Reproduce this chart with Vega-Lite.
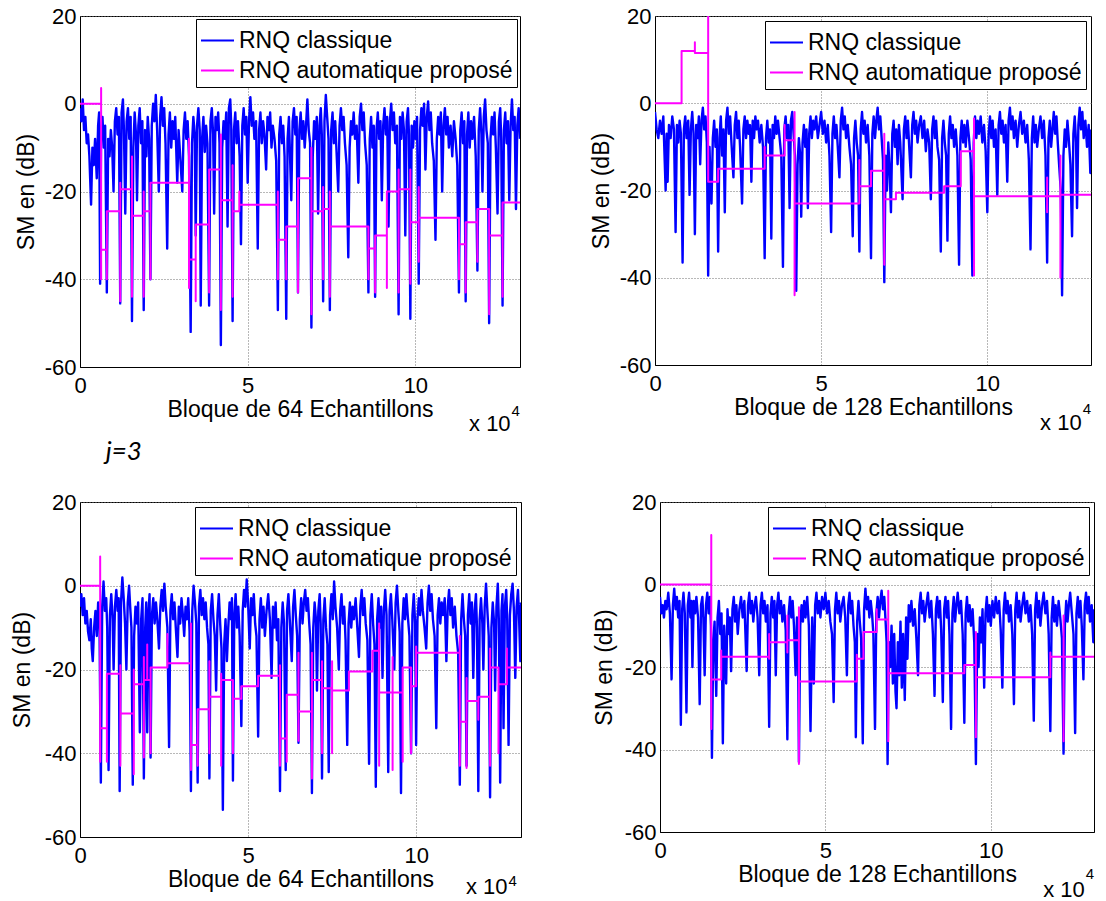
{
"$schema": "https://vega.github.io/schema/vega-lite/v6.json",
"background": "white",
"padding": {"left": 10, "top": 4, "right": 0, "bottom": 0},
"config": {
 "font": "Liberation Sans",
 "view": {"stroke": "black", "strokeWidth": 1},
 "axis": {"labelFont": "Liberation Sans", "labelFontSize": 22, "labelColor": "black", "titleFont": "Liberation Sans", "titleFontSize": 23, "titleFontWeight": "normal", "titleColor": "black", "domainColor": "black", "ticks": false, "grid": true, "gridColor": "#707070", "gridDash": [1, 2], "gridWidth": 1, "labelFlush": false, "labelOverlap": false},
 "legend": {"orient": "top-right", "offset": 4, "strokeColor": "black", "fillColor": "white", "padding": 4, "rowPadding": -2, "symbolType": "stroke", "symbolSize": 1089, "symbolStrokeWidth": 2, "labelFont": "Liberation Sans", "labelFontSize": 23, "labelColor": "black", "labelOffset": 4, "labelLimit": 500},
 "line": {"strokeWidth": 2, "strokeJoin": "round"},
 "text": {"font": "Liberation Sans", "color": "black"}
},
"datasets": {
"b1": [{"x":0,"y":-1},{"x":0.04,"y":-4},{"x":0.08,"y":1},{"x":0.12,"y":-6},{"x":0.16,"y":-3},{"x":0.2,"y":-9},{"x":0.24,"y":-7},{"x":0.28,"y":-12},{"x":0.33,"y":-23},{"x":0.37,"y":-10},{"x":0.41,"y":-14},{"x":0.45,"y":-8},{"x":0.5,"y":-17},{"x":0.54,"y":-5},{"x":0.57,"y":-2},{"x":0.6,"y":-41},{"x":0.63,"y":-6},{"x":0.67,"y":-3},{"x":0.71,"y":-10},{"x":0.75,"y":-5},{"x":0.8,"y":-43},{"x":0.84,"y":-8},{"x":0.88,"y":-12},{"x":0.92,"y":-6},{"x":0.96,"y":-10},{"x":1.0,"y":-20},{"x":1.04,"y":-4},{"x":1.08,"y":-1},{"x":1.12,"y":-7},{"x":1.16,"y":-3},{"x":1.2,"y":-45.5},{"x":1.24,"y":-2},{"x":1.28,"y":1},{"x":1.31,"y":-6},{"x":1.35,"y":-25},{"x":1.39,"y":-4},{"x":1.43,"y":-1},{"x":1.47,"y":-8},{"x":1.51,"y":-3},{"x":1.55,"y":-49.5},{"x":1.59,"y":-10},{"x":1.63,"y":-2},{"x":1.67,"y":-7},{"x":1.7,"y":-22},{"x":1.74,"y":-5},{"x":1.78,"y":-1},{"x":1.82,"y":-9},{"x":1.86,"y":-4},{"x":1.9,"y":-47},{"x":1.94,"y":-6},{"x":1.98,"y":-12},{"x":2.02,"y":-3},{"x":2.06,"y":-8},{"x":2.1,"y":-40},{"x":2.14,"y":-5},{"x":2.18,"y":0},{"x":2.22,"y":-4},{"x":2.26,"y":2},{"x":2.3,"y":-6},{"x":2.35,"y":-20},{"x":2.39,"y":-3},{"x":2.43,"y":1.5},{"x":2.47,"y":-5},{"x":2.51,"y":-1},{"x":2.55,"y":-9},{"x":2.6,"y":-33},{"x":2.64,"y":-7},{"x":2.68,"y":-2},{"x":2.72,"y":-10},{"x":2.76,"y":-4},{"x":2.8,"y":-8},{"x":2.84,"y":-3},{"x":2.9,"y":-18},{"x":2.94,"y":-6},{"x":2.98,"y":-11},{"x":3.05,"y":-20},{"x":3.09,"y":-6},{"x":3.13,"y":-2},{"x":3.17,"y":-8},{"x":3.21,"y":-4},{"x":3.25,"y":-12},{"x":3.3,"y":-52},{"x":3.34,"y":-9},{"x":3.38,"y":-3},{"x":3.42,"y":-7},{"x":3.45,"y":-30},{"x":3.49,"y":-5},{"x":3.53,"y":-1},{"x":3.57,"y":-6},{"x":3.6,"y":-46},{"x":3.64,"y":-8},{"x":3.68,"y":-3},{"x":3.72,"y":-11},{"x":3.76,"y":-5},{"x":3.8,"y":-9},{"x":3.85,"y":-46},{"x":3.89,"y":-4},{"x":3.93,"y":-1},{"x":3.97,"y":-7},{"x":4.0,"y":-25},{"x":4.04,"y":-3},{"x":4.08,"y":-6},{"x":4.12,"y":-2},{"x":4.16,"y":-9},{"x":4.2,"y":-55},{"x":4.24,"y":-10},{"x":4.28,"y":-4},{"x":4.32,"y":-8},{"x":4.36,"y":-2},{"x":4.4,"y":-28},{"x":4.44,"y":-1},{"x":4.48,"y":1},{"x":4.51,"y":-5},{"x":4.55,"y":-49.5},{"x":4.59,"y":-6},{"x":4.63,"y":-2},{"x":4.67,"y":-9},{"x":4.71,"y":-4},{"x":4.76,"y":-12},{"x":4.8,"y":-32},{"x":4.84,"y":-5},{"x":4.88,"y":-1},{"x":4.92,"y":-7},{"x":4.96,"y":-3},{"x":5.0,"y":-18},{"x":5.04,"y":-4},{"x":5.08,"y":1.5},{"x":5.12,"y":-5},{"x":5.16,"y":-2},{"x":5.2,"y":-8},{"x":5.25,"y":-4},{"x":5.3,"y":-33},{"x":5.34,"y":-6},{"x":5.38,"y":-2},{"x":5.42,"y":-9},{"x":5.46,"y":-4},{"x":5.5,"y":-7},{"x":5.55,"y":-15},{"x":5.59,"y":-3},{"x":5.63,"y":-6},{"x":5.67,"y":-2},{"x":5.71,"y":-10},{"x":5.75,"y":-5},{"x":5.8,"y":-8},{"x":5.85,"y":-13},{"x":5.9,"y":-47},{"x":5.94,"y":-7},{"x":5.98,"y":-3},{"x":6.02,"y":-9},{"x":6.06,"y":-5},{"x":6.1,"y":-12},{"x":6.15,"y":-49},{"x":6.19,"y":-8},{"x":6.23,"y":-3},{"x":6.3,"y":-22},{"x":6.34,"y":-4},{"x":6.38,"y":-1},{"x":6.42,"y":-7},{"x":6.46,"y":-3},{"x":6.5,"y":-43},{"x":6.54,"y":-6},{"x":6.58,"y":-2},{"x":6.62,"y":-8},{"x":6.66,"y":-4},{"x":6.7,"y":-10},{"x":6.74,"y":-5},{"x":6.78,"y":1},{"x":6.82,"y":-6},{"x":6.86,"y":-9},{"x":6.9,"y":-51},{"x":6.94,"y":-12},{"x":6.98,"y":-4},{"x":7.02,"y":-8},{"x":7.06,"y":-3},{"x":7.1,"y":-25},{"x":7.14,"y":-5},{"x":7.18,"y":-1},{"x":7.21,"y":-7},{"x":7.25,"y":-45},{"x":7.29,"y":-4},{"x":7.33,"y":2},{"x":7.37,"y":-3},{"x":7.41,"y":-8},{"x":7.45,"y":-47},{"x":7.49,"y":-6},{"x":7.53,"y":-2},{"x":7.57,"y":-9},{"x":7.61,"y":-4},{"x":7.65,"y":-11},{"x":7.7,"y":-20},{"x":7.74,"y":-5},{"x":7.78,"y":-1},{"x":7.82,"y":-6},{"x":7.86,"y":-3},{"x":7.9,"y":-9},{"x":7.95,"y":-14},{"x":8.0,"y":-35},{"x":8.04,"y":-10},{"x":8.08,"y":-4},{"x":8.12,"y":-7},{"x":8.16,"y":-2},{"x":8.2,"y":-8},{"x":8.25,"y":-5},{"x":8.3,"y":-18},{"x":8.34,"y":-3},{"x":8.38,"y":0},{"x":8.42,"y":-6},{"x":8.46,"y":-2},{"x":8.5,"y":-9},{"x":8.55,"y":-14},{"x":8.6,"y":-43},{"x":8.64,"y":-8},{"x":8.68,"y":-3},{"x":8.72,"y":-10},{"x":8.76,"y":-5},{"x":8.8,"y":-44},{"x":8.84,"y":-6},{"x":8.88,"y":-2},{"x":8.92,"y":-8},{"x":8.96,"y":-4},{"x":9.0,"y":-22},{"x":9.04,"y":-5},{"x":9.08,"y":-1},{"x":9.12,"y":-7},{"x":9.16,"y":-3},{"x":9.2,"y":-28},{"x":9.24,"y":-4},{"x":9.28,"y":0},{"x":9.32,"y":-6},{"x":9.36,"y":-2},{"x":9.4,"y":-9},{"x":9.45,"y":-5},{"x":9.5,"y":-48},{"x":9.54,"y":-3},{"x":9.58,"y":-8},{"x":9.62,"y":-2},{"x":9.66,"y":-6},{"x":9.7,"y":-30},{"x":9.74,"y":-4},{"x":9.78,"y":-1},{"x":9.81,"y":-7},{"x":9.85,"y":-49},{"x":9.89,"y":-5},{"x":9.93,"y":-10},{"x":9.97,"y":-4},{"x":10.01,"y":-8},{"x":10.05,"y":-3},{"x":10.1,"y":-41},{"x":10.14,"y":-6},{"x":10.18,"y":-1},{"x":10.22,"y":-5},{"x":10.26,"y":0},{"x":10.3,"y":-15},{"x":10.34,"y":-3},{"x":10.38,"y":0.5},{"x":10.42,"y":-6},{"x":10.46,"y":-2},{"x":10.5,"y":-9},{"x":10.55,"y":-13},{"x":10.6,"y":-31},{"x":10.64,"y":-8},{"x":10.68,"y":-3},{"x":10.72,"y":-7},{"x":10.76,"y":-2},{"x":10.8,"y":-20},{"x":10.84,"y":-5},{"x":10.88,"y":-1},{"x":10.92,"y":-7},{"x":10.96,"y":-3},{"x":11.0,"y":-10},{"x":11.05,"y":-5},{"x":11.1,"y":-12},{"x":11.15,"y":-4},{"x":11.2,"y":-8},{"x":11.25,"y":-14},{"x":11.3,"y":-43},{"x":11.34,"y":-6},{"x":11.38,"y":-2},{"x":11.42,"y":-9},{"x":11.46,"y":-4},{"x":11.5,"y":-45},{"x":11.54,"y":-7},{"x":11.58,"y":-2},{"x":11.62,"y":-10},{"x":11.66,"y":-4},{"x":11.7,"y":-8},{"x":11.75,"y":-3},{"x":11.8,"y":-12},{"x":11.85,"y":-38},{"x":11.89,"y":-6},{"x":11.93,"y":-1},{"x":11.97,"y":-7},{"x":12.0,"y":-20},{"x":12.04,"y":-3},{"x":12.08,"y":1},{"x":12.12,"y":-6},{"x":12.16,"y":-9},{"x":12.2,"y":-50},{"x":12.24,"y":-8},{"x":12.28,"y":-3},{"x":12.32,"y":-7},{"x":12.36,"y":-2},{"x":12.4,"y":-10},{"x":12.45,"y":-25},{"x":12.49,"y":-4},{"x":12.53,"y":-1},{"x":12.56,"y":-8},{"x":12.6,"y":-46},{"x":12.64,"y":-6},{"x":12.68,"y":-2},{"x":12.72,"y":-9},{"x":12.76,"y":-4},{"x":12.8,"y":-22},{"x":12.84,"y":-5},{"x":12.88,"y":1},{"x":12.92,"y":-6},{"x":12.96,"y":-3},{"x":13.0,"y":-24},{"x":13.04,"y":-5},{"x":13.08,"y":-1},{"x":13.12,"y":-8}],
"m1": [{"x":0,"y":0},{"x":0.63,"y":0},{"x":0.63,"y":3.6},{"x":0.63,"y":-40},{"x":0.63,"y":-33.3},{"x":0.8,"y":-33.3},{"x":0.8,"y":-40},{"x":0.8,"y":-24.5},{"x":1.2,"y":-24.5},{"x":1.2,"y":-45},{"x":1.2,"y":-18},{"x":1.2,"y":-19.5},{"x":1.55,"y":-19.5},{"x":1.55,"y":-44},{"x":1.55,"y":-12},{"x":1.55,"y":-25.5},{"x":1.9,"y":-25.5},{"x":1.9,"y":-44},{"x":1.9,"y":-20},{"x":1.9,"y":-24.5},{"x":2.1,"y":-24.5},{"x":2.1,"y":-40},{"x":2.1,"y":-18},{"x":3.25,"y":-18},{"x":3.25,"y":-8},{"x":3.25,"y":-42},{"x":3.25,"y":-35.5},{"x":3.45,"y":-35.5},{"x":3.45,"y":-45},{"x":3.45,"y":-27.5},{"x":3.85,"y":-27.5},{"x":3.85,"y":-43},{"x":3.85,"y":-15},{"x":4.2,"y":-15},{"x":4.2,"y":-7},{"x":4.2,"y":-47},{"x":4.2,"y":-22},{"x":4.55,"y":-22},{"x":4.55,"y":-44},{"x":4.55,"y":-14},{"x":4.55,"y":-24.5},{"x":4.75,"y":-24.5},{"x":4.75,"y":-20},{"x":4.75,"y":-23},{"x":5.9,"y":-23},{"x":5.9,"y":-20},{"x":5.9,"y":-40},{"x":5.9,"y":-31},{"x":6.15,"y":-31},{"x":6.15,"y":-40},{"x":6.15,"y":-28},{"x":6.5,"y":-28},{"x":6.5,"y":-43},{"x":6.5,"y":-17},{"x":6.9,"y":-17},{"x":6.9,"y":-48},{"x":6.9,"y":-10},{"x":6.9,"y":-24.5},{"x":7.25,"y":-24.5},{"x":7.25,"y":-40},{"x":7.25,"y":-19},{"x":7.25,"y":-24},{"x":7.45,"y":-24},{"x":7.45,"y":-44},{"x":7.45,"y":-20},{"x":7.45,"y":-28},{"x":8.6,"y":-28},{"x":8.6,"y":-40},{"x":8.6,"y":-33},{"x":8.8,"y":-33},{"x":8.8,"y":-43},{"x":8.8,"y":-30},{"x":9.15,"y":-30},{"x":9.15,"y":-42},{"x":9.15,"y":-20},{"x":9.5,"y":-20},{"x":9.5,"y":-43},{"x":9.5,"y":-15},{"x":9.5,"y":-19.5},{"x":9.85,"y":-19.5},{"x":9.85,"y":-15},{"x":9.85,"y":-41},{"x":9.85,"y":-27},{"x":10.1,"y":-27},{"x":10.1,"y":-19},{"x":10.1,"y":-36},{"x":10.1,"y":-26},{"x":11.3,"y":-26},{"x":11.3,"y":-40},{"x":11.3,"y":-32},{"x":11.5,"y":-32},{"x":11.5,"y":-43},{"x":11.5,"y":-27},{"x":11.85,"y":-27},{"x":11.85,"y":-36},{"x":11.85,"y":-24},{"x":12.2,"y":-24},{"x":12.2,"y":-48},{"x":12.2,"y":-30},{"x":12.6,"y":-30},{"x":12.6,"y":-44},{"x":12.6,"y":-22.5},{"x":13.12,"y":-22.5}],
"b2": [{"x":0,"y":-2},{"x":0.05,"y":-6},{"x":0.1,"y":-8},{"x":0.15,"y":-4},{"x":0.2,"y":-7},{"x":0.25,"y":-3},{"x":0.32,"y":-20},{"x":0.35,"y":-7},{"x":0.38,"y":-18},{"x":0.42,"y":-5},{"x":0.47,"y":-8},{"x":0.52,"y":-3},{"x":0.57,"y":-6},{"x":0.62,"y":-29.5},{"x":0.66,"y":-5},{"x":0.7,"y":-9},{"x":0.74,"y":-4},{"x":0.78,"y":-7},{"x":0.83,"y":-36.5},{"x":0.87,"y":-6},{"x":0.91,"y":-3},{"x":0.95,"y":-8},{"x":1.0,"y":-4},{"x":1.04,"y":-21},{"x":1.08,"y":-6},{"x":1.12,"y":-2},{"x":1.16,"y":-7},{"x":1.2,"y":-30},{"x":1.24,"y":-5},{"x":1.28,"y":-8},{"x":1.32,"y":-3},{"x":1.36,"y":-14},{"x":1.4,"y":-4},{"x":1.44,"y":-1},{"x":1.48,"y":-6},{"x":1.52,"y":-3},{"x":1.56,"y":-9},{"x":1.6,"y":-39.5},{"x":1.64,"y":-10},{"x":1.67,"y":-18},{"x":1.7,"y":-23},{"x":1.74,"y":-8},{"x":1.78,"y":-4},{"x":1.82,"y":-10},{"x":1.86,"y":-6},{"x":1.9,"y":-34},{"x":1.94,"y":-8},{"x":1.98,"y":-3},{"x":2.02,"y":-12},{"x":2.06,"y":-6},{"x":2.1,"y":-25},{"x":2.14,"y":-4},{"x":2.18,"y":-1},{"x":2.22,"y":-7},{"x":2.26,"y":-3},{"x":2.3,"y":-9},{"x":2.36,"y":-17},{"x":2.4,"y":-5},{"x":2.44,"y":-2},{"x":2.48,"y":-8},{"x":2.52,"y":-4},{"x":2.56,"y":-10},{"x":2.62,"y":-23},{"x":2.66,"y":-6},{"x":2.7,"y":-3},{"x":2.74,"y":-8},{"x":2.78,"y":-4},{"x":2.82,"y":-7},{"x":2.86,"y":-5},{"x":2.9,"y":-18},{"x":2.94,"y":-4},{"x":2.98,"y":-8},{"x":3.02,"y":-3},{"x":3.06,"y":-6},{"x":3.1,"y":-4},{"x":3.15,"y":-9},{"x":3.2,"y":-5},{"x":3.25,"y":-10},{"x":3.3,"y":-35.5},{"x":3.34,"y":-8},{"x":3.38,"y":-4},{"x":3.42,"y":-9},{"x":3.46,"y":-6},{"x":3.5,"y":-31},{"x":3.54,"y":-5},{"x":3.58,"y":-8},{"x":3.62,"y":-3},{"x":3.66,"y":-7},{"x":3.7,"y":-4},{"x":3.75,"y":-8},{"x":3.8,"y":-12},{"x":3.85,"y":-37.5},{"x":3.89,"y":-6},{"x":3.93,"y":-3},{"x":3.97,"y":-8},{"x":4.01,"y":-5},{"x":4.05,"y":-24},{"x":4.09,"y":-4},{"x":4.13,"y":-2},{"x":4.17,"y":-7},{"x":4.21,"y":-12},{"x":4.25,"y":-43},{"x":4.29,"y":-14},{"x":4.33,"y":-8},{"x":4.37,"y":-12},{"x":4.4,"y":-26},{"x":4.44,"y":-9},{"x":4.48,"y":-5},{"x":4.52,"y":-10},{"x":4.56,"y":-6},{"x":4.6,"y":-24},{"x":4.64,"y":-7},{"x":4.68,"y":-3},{"x":4.72,"y":-8},{"x":4.76,"y":-4},{"x":4.8,"y":-6},{"x":4.85,"y":-3},{"x":4.9,"y":-8},{"x":4.95,"y":-5},{"x":5.0,"y":-2},{"x":5.05,"y":-7},{"x":5.1,"y":-4},{"x":5.15,"y":-9},{"x":5.2,"y":-5},{"x":5.25,"y":-12},{"x":5.3,"y":-29.5},{"x":5.34,"y":-7},{"x":5.38,"y":-3},{"x":5.42,"y":-8},{"x":5.46,"y":-5},{"x":5.5,"y":-10},{"x":5.55,"y":-17},{"x":5.59,"y":-4},{"x":5.63,"y":-1},{"x":5.67,"y":-6},{"x":5.71,"y":-3},{"x":5.75,"y":-8},{"x":5.8,"y":-5},{"x":5.85,"y":-10},{"x":5.9,"y":-14},{"x":5.95,"y":-30.5},{"x":5.99,"y":-8},{"x":6.03,"y":-4},{"x":6.07,"y":-9},{"x":6.11,"y":-12},{"x":6.15,"y":-34},{"x":6.19,"y":-6},{"x":6.23,"y":-2},{"x":6.27,"y":-7},{"x":6.31,"y":-4},{"x":6.35,"y":-9},{"x":6.4,"y":-5},{"x":6.45,"y":-12},{"x":6.5,"y":-35.5},{"x":6.54,"y":-7},{"x":6.58,"y":-3},{"x":6.62,"y":-8},{"x":6.66,"y":-4},{"x":6.7,"y":-1},{"x":6.74,"y":-6},{"x":6.78,"y":-3},{"x":6.82,"y":-8},{"x":6.86,"y":-13},{"x":6.9,"y":-41},{"x":6.94,"y":-12},{"x":6.98,"y":-20},{"x":7.02,"y":-9},{"x":7.06,"y":-15},{"x":7.1,"y":-25},{"x":7.14,"y":-7},{"x":7.18,"y":-4},{"x":7.22,"y":-10},{"x":7.26,"y":-6},{"x":7.3,"y":-14},{"x":7.34,"y":-5},{"x":7.38,"y":-9},{"x":7.45,"y":-22},{"x":7.49,"y":-6},{"x":7.53,"y":-3},{"x":7.57,"y":-8},{"x":7.61,"y":-4},{"x":7.65,"y":-10},{"x":7.7,"y":-17},{"x":7.74,"y":-5},{"x":7.78,"y":-2},{"x":7.82,"y":-7},{"x":7.86,"y":-4},{"x":7.9,"y":-9},{"x":7.95,"y":-5},{"x":8.0,"y":-3},{"x":8.05,"y":-8},{"x":8.1,"y":-4},{"x":8.15,"y":-11},{"x":8.2,"y":-6},{"x":8.25,"y":-9},{"x":8.3,"y":-22},{"x":8.34,"y":-6},{"x":8.38,"y":-3},{"x":8.42,"y":-8},{"x":8.46,"y":-4},{"x":8.5,"y":-10},{"x":8.55,"y":-13},{"x":8.6,"y":-34},{"x":8.64,"y":-8},{"x":8.68,"y":-4},{"x":8.72,"y":-9},{"x":8.76,"y":-12},{"x":8.8,"y":-31.5},{"x":8.84,"y":-7},{"x":8.88,"y":-3},{"x":8.92,"y":-8},{"x":8.96,"y":-5},{"x":9.0,"y":-10},{"x":9.05,"y":-6},{"x":9.1,"y":-12},{"x":9.15,"y":-37},{"x":9.19,"y":-8},{"x":9.23,"y":-4},{"x":9.27,"y":-9},{"x":9.31,"y":-5},{"x":9.35,"y":-10},{"x":9.4,"y":-4},{"x":9.45,"y":-8},{"x":9.5,"y":-13},{"x":9.55,"y":-39.5},{"x":9.59,"y":-9},{"x":9.63,"y":-3},{"x":9.67,"y":-8},{"x":9.71,"y":-4},{"x":9.75,"y":-7},{"x":9.8,"y":-3},{"x":9.85,"y":-9},{"x":9.9,"y":-5},{"x":9.95,"y":-11},{"x":10.0,"y":-25},{"x":10.04,"y":-7},{"x":10.08,"y":-3},{"x":10.12,"y":-8},{"x":10.16,"y":-4},{"x":10.2,"y":-10},{"x":10.25,"y":-6},{"x":10.3,"y":-21},{"x":10.34,"y":-5},{"x":10.38,"y":-2},{"x":10.42,"y":-7},{"x":10.46,"y":-4},{"x":10.5,"y":-9},{"x":10.55,"y":-5},{"x":10.6,"y":-18},{"x":10.64,"y":-4},{"x":10.68,"y":-1},{"x":10.72,"y":-6},{"x":10.76,"y":-3},{"x":10.8,"y":-8},{"x":10.85,"y":-4},{"x":10.9,"y":-10},{"x":10.95,"y":-5},{"x":11.0,"y":-2},{"x":11.05,"y":-7},{"x":11.1,"y":-4},{"x":11.15,"y":-9},{"x":11.2,"y":-5},{"x":11.25,"y":-13},{"x":11.3,"y":-33.5},{"x":11.34,"y":-8},{"x":11.38,"y":-3},{"x":11.42,"y":-9},{"x":11.46,"y":-5},{"x":11.5,"y":-10},{"x":11.55,"y":-6},{"x":11.6,"y":-3},{"x":11.65,"y":-8},{"x":11.7,"y":-4},{"x":11.75,"y":-12},{"x":11.8,"y":-36.5},{"x":11.84,"y":-8},{"x":11.88,"y":-4},{"x":11.92,"y":-10},{"x":11.96,"y":-6},{"x":12.0,"y":-2},{"x":12.04,"y":-7},{"x":12.08,"y":-3},{"x":12.12,"y":-9},{"x":12.16,"y":-14},{"x":12.21,"y":-20},{"x":12.25,"y":-44},{"x":12.29,"y":-12},{"x":12.33,"y":-6},{"x":12.37,"y":-10},{"x":12.41,"y":-4},{"x":12.45,"y":-8},{"x":12.5,"y":-14},{"x":12.55,"y":-30.5},{"x":12.59,"y":-7},{"x":12.63,"y":-3},{"x":12.67,"y":-9},{"x":12.7,"y":-24},{"x":12.74,"y":-5},{"x":12.78,"y":-1},{"x":12.82,"y":-6},{"x":12.86,"y":-2},{"x":12.9,"y":-8},{"x":12.95,"y":-4},{"x":13.0,"y":-10},{"x":13.05,"y":-5},{"x":13.1,"y":-16},{"x":13.12,"y":-6}],
"m2": [{"x":0,"y":0},{"x":0.8,"y":0},{"x":0.8,"y":12},{"x":1.2,"y":12},{"x":1.2,"y":14},{"x":1.2,"y":11.5},{"x":1.6,"y":11.5},{"x":1.6,"y":20},{"x":1.6,"y":-18},{"x":1.9,"y":-18},{"x":1.9,"y":-15},{"x":3.3,"y":-15},{"x":3.3,"y":-10},{"x":3.3,"y":-12},{"x":3.9,"y":-12},{"x":3.9,"y":-5},{"x":3.9,"y":-8.5},{"x":4.2,"y":-8.5},{"x":4.2,"y":-2},{"x":4.2,"y":-44},{"x":4.2,"y":-23},{"x":6.15,"y":-23},{"x":6.15,"y":-13},{"x":6.15,"y":-19},{"x":6.5,"y":-19},{"x":6.5,"y":-15.5},{"x":6.9,"y":-15.5},{"x":6.9,"y":-7},{"x":6.9,"y":-37},{"x":6.9,"y":-22},{"x":7.25,"y":-22},{"x":7.25,"y":-20.5},{"x":8.7,"y":-20.5},{"x":8.7,"y":-19},{"x":9.2,"y":-19},{"x":9.2,"y":-11},{"x":9.6,"y":-11},{"x":9.6,"y":-3.5},{"x":9.6,"y":-39.5},{"x":9.6,"y":-21.3},{"x":11.8,"y":-21.3},{"x":11.8,"y":-17},{"x":11.8,"y":-25},{"x":11.8,"y":-21.3},{"x":12.2,"y":-21.3},{"x":12.2,"y":-12},{"x":12.2,"y":-40},{"x":12.2,"y":-21},{"x":13.12,"y":-21}],
"b3": [{"x":0,"y":-5},{"x":0.04,"y":-2},{"x":0.08,"y":-7},{"x":0.12,"y":-3},{"x":0.16,"y":-9},{"x":0.2,"y":-6},{"x":0.24,"y":-11},{"x":0.28,"y":-13},{"x":0.32,"y":-8},{"x":0.35,"y":-15},{"x":0.38,"y":-18},{"x":0.42,"y":-10},{"x":0.46,"y":-6},{"x":0.5,"y":-12},{"x":0.54,"y":-4},{"x":0.58,"y":-9},{"x":0.62,"y":-47},{"x":0.66,"y":-5},{"x":0.7,"y":1},{"x":0.74,"y":-6},{"x":0.78,"y":-3},{"x":0.81,"y":-10},{"x":0.85,"y":-44},{"x":0.89,"y":-7},{"x":0.93,"y":-2},{"x":0.97,"y":-8},{"x":1.0,"y":-20},{"x":1.04,"y":-5},{"x":1.08,"y":-1},{"x":1.12,"y":-6},{"x":1.15,"y":-3},{"x":1.18,"y":-49},{"x":1.22,"y":-4},{"x":1.26,"y":2},{"x":1.3,"y":-3},{"x":1.34,"y":-9},{"x":1.38,"y":-20},{"x":1.42,"y":-4},{"x":1.46,"y":0},{"x":1.5,"y":-6},{"x":1.53,"y":-10},{"x":1.57,"y":-47.5},{"x":1.61,"y":-12},{"x":1.65,"y":-5},{"x":1.69,"y":-9},{"x":1.73,"y":-4},{"x":1.78,"y":-35},{"x":1.82,"y":-8},{"x":1.86,"y":-3},{"x":1.9,"y":-46},{"x":1.94,"y":-10},{"x":1.97,"y":-4},{"x":2.0,"y":-35},{"x":2.04,"y":-6},{"x":2.07,"y":-2},{"x":2.1,"y":-41},{"x":2.14,"y":-7},{"x":2.18,"y":-3},{"x":2.22,"y":-9},{"x":2.26,"y":-4},{"x":2.3,"y":-8},{"x":2.35,"y":-15},{"x":2.39,"y":-5},{"x":2.43,"y":-1},{"x":2.47,"y":-6},{"x":2.51,"y":0.5},{"x":2.55,"y":-5},{"x":2.6,"y":-10},{"x":2.65,"y":-38.5},{"x":2.69,"y":-6},{"x":2.73,"y":-2},{"x":2.77,"y":-8},{"x":2.81,"y":-4},{"x":2.85,"y":-10},{"x":2.9,"y":-17},{"x":2.94,"y":-5},{"x":2.98,"y":-9},{"x":3.02,"y":-3},{"x":3.06,"y":-7},{"x":3.1,"y":-12},{"x":3.14,"y":-5},{"x":3.18,"y":-8},{"x":3.22,"y":-3},{"x":3.26,"y":-11},{"x":3.3,"y":-49},{"x":3.34,"y":-6},{"x":3.38,"y":0},{"x":3.42,"y":-4},{"x":3.46,"y":-9},{"x":3.5,"y":-47},{"x":3.54,"y":-5},{"x":3.58,"y":-1},{"x":3.62,"y":-7},{"x":3.66,"y":-3},{"x":3.7,"y":-8},{"x":3.74,"y":-4},{"x":3.78,"y":-10},{"x":3.82,"y":-14},{"x":3.85,"y":-46},{"x":3.89,"y":-6},{"x":3.93,"y":-2},{"x":3.97,"y":-8},{"x":4.01,"y":-12},{"x":4.05,"y":-25},{"x":4.09,"y":-7},{"x":4.13,"y":-2},{"x":4.17,"y":-9},{"x":4.21,"y":-15},{"x":4.25,"y":-53.5},{"x":4.29,"y":-14},{"x":4.33,"y":-8},{"x":4.37,"y":-18},{"x":4.41,"y":-10},{"x":4.45,"y":-4},{"x":4.49,"y":-8},{"x":4.52,"y":-3},{"x":4.55,"y":-46.5},{"x":4.59,"y":-7},{"x":4.63,"y":-2},{"x":4.67,"y":-10},{"x":4.71,"y":-5},{"x":4.75,"y":-12},{"x":4.8,"y":-33.5},{"x":4.84,"y":-6},{"x":4.88,"y":-1},{"x":4.92,"y":-5},{"x":4.96,"y":1.5},{"x":5.0,"y":-4},{"x":5.05,"y":-15},{"x":5.09,"y":-3},{"x":5.13,"y":-7},{"x":5.17,"y":-2},{"x":5.21,"y":-9},{"x":5.25,"y":-12},{"x":5.3,"y":-36},{"x":5.34,"y":-8},{"x":5.38,"y":-3},{"x":5.42,"y":-10},{"x":5.46,"y":-5},{"x":5.5,"y":-12},{"x":5.55,"y":-6},{"x":5.6,"y":-2},{"x":5.65,"y":-8},{"x":5.7,"y":-22},{"x":5.74,"y":-5},{"x":5.78,"y":-10},{"x":5.82,"y":-4},{"x":5.86,"y":-13},{"x":5.9,"y":-8},{"x":5.95,"y":-49},{"x":5.99,"y":-10},{"x":6.03,"y":-4},{"x":6.07,"y":-9},{"x":6.12,"y":-44},{"x":6.16,"y":-6},{"x":6.2,"y":-2},{"x":6.24,"y":-8},{"x":6.3,"y":-18},{"x":6.34,"y":-5},{"x":6.38,"y":-1},{"x":6.42,"y":-7},{"x":6.46,"y":-12},{"x":6.5,"y":-37.5},{"x":6.54,"y":-8},{"x":6.58,"y":-3},{"x":6.62,"y":-9},{"x":6.66,"y":-4},{"x":6.7,"y":-1},{"x":6.74,"y":-6},{"x":6.78,"y":-3},{"x":6.82,"y":-9},{"x":6.86,"y":-14},{"x":6.9,"y":-49.5},{"x":6.94,"y":-10},{"x":6.98,"y":-4},{"x":7.02,"y":-8},{"x":7.05,"y":-25},{"x":7.09,"y":-6},{"x":7.13,"y":-2},{"x":7.16,"y":-9},{"x":7.2,"y":-46},{"x":7.24,"y":-8},{"x":7.28,"y":-3},{"x":7.32,"y":-10},{"x":7.36,"y":-14},{"x":7.4,"y":-44.5},{"x":7.44,"y":-7},{"x":7.48,"y":-2},{"x":7.52,"y":-8},{"x":7.56,"y":1},{"x":7.6,"y":-5},{"x":7.65,"y":-10},{"x":7.7,"y":-20},{"x":7.74,"y":-6},{"x":7.78,"y":-2},{"x":7.82,"y":-9},{"x":7.86,"y":-5},{"x":7.9,"y":-13},{"x":7.95,"y":-38},{"x":7.99,"y":-9},{"x":8.03,"y":-4},{"x":8.07,"y":-10},{"x":8.11,"y":-5},{"x":8.15,"y":-8},{"x":8.2,"y":-3},{"x":8.25,"y":-10},{"x":8.3,"y":-17},{"x":8.34,"y":-5},{"x":8.38,"y":-1},{"x":8.42,"y":-7},{"x":8.46,"y":-3},{"x":8.5,"y":-9},{"x":8.55,"y":-13},{"x":8.6,"y":-42.5},{"x":8.64,"y":-7},{"x":8.68,"y":-2},{"x":8.72,"y":-9},{"x":8.76,"y":-14},{"x":8.8,"y":-48},{"x":8.84,"y":-8},{"x":8.88,"y":-3},{"x":8.92,"y":-10},{"x":8.96,"y":-5},{"x":9.0,"y":-22},{"x":9.04,"y":-6},{"x":9.08,"y":-1},{"x":9.12,"y":-7},{"x":9.17,"y":-44.5},{"x":9.21,"y":-6},{"x":9.25,"y":-2},{"x":9.29,"y":-8},{"x":9.35,"y":-20},{"x":9.39,"y":-4},{"x":9.43,"y":0},{"x":9.47,"y":-6},{"x":9.51,"y":-11},{"x":9.55,"y":-49.5},{"x":9.59,"y":-9},{"x":9.63,"y":-3},{"x":9.67,"y":-8},{"x":9.71,"y":-2},{"x":9.75,"y":-7},{"x":9.8,"y":-12},{"x":9.85,"y":-40},{"x":9.89,"y":-7},{"x":9.93,"y":-2},{"x":9.97,"y":-9},{"x":10.0,"y":-38},{"x":10.04,"y":-8},{"x":10.08,"y":-3},{"x":10.12,"y":-7},{"x":10.16,"y":-1},{"x":10.2,"y":-6},{"x":10.25,"y":-10},{"x":10.3,"y":-15},{"x":10.34,"y":-4},{"x":10.38,"y":0},{"x":10.42,"y":-6},{"x":10.46,"y":-2},{"x":10.5,"y":-8},{"x":10.55,"y":-12},{"x":10.6,"y":-34},{"x":10.64,"y":-7},{"x":10.68,"y":-3},{"x":10.72,"y":-9},{"x":10.76,"y":-4},{"x":10.8,"y":-7},{"x":10.85,"y":-3},{"x":10.9,"y":-18},{"x":10.94,"y":-5},{"x":10.98,"y":-1},{"x":11.02,"y":-7},{"x":11.06,"y":-3},{"x":11.1,"y":-10},{"x":11.15,"y":-5},{"x":11.2,"y":-12},{"x":11.25,"y":-16},{"x":11.3,"y":-47.5},{"x":11.34,"y":-8},{"x":11.38,"y":-2},{"x":11.42,"y":-8},{"x":11.46,"y":-12},{"x":11.5,"y":-43},{"x":11.54,"y":-7},{"x":11.58,"y":-2},{"x":11.62,"y":-9},{"x":11.66,"y":-4},{"x":11.7,"y":-22},{"x":11.74,"y":-6},{"x":11.78,"y":-2},{"x":11.81,"y":-10},{"x":11.85,"y":-49},{"x":11.89,"y":-8},{"x":11.93,"y":-3},{"x":11.97,"y":-9},{"x":12.0,"y":-20},{"x":12.04,"y":-5},{"x":12.08,"y":0.5},{"x":12.12,"y":-6},{"x":12.16,"y":-12},{"x":12.2,"y":-50.5},{"x":12.24,"y":-10},{"x":12.28,"y":-4},{"x":12.32,"y":-9},{"x":12.35,"y":-25},{"x":12.39,"y":-5},{"x":12.43,"y":0.5},{"x":12.46,"y":-8},{"x":12.5,"y":-47},{"x":12.54,"y":-6},{"x":12.57,"y":-2},{"x":12.6,"y":-34},{"x":12.64,"y":-5},{"x":12.68,"y":-1},{"x":12.71,"y":-8},{"x":12.75,"y":-38},{"x":12.79,"y":-7},{"x":12.83,"y":-2},{"x":12.87,"y":0.5},{"x":12.91,"y":-6},{"x":12.95,"y":-22},{"x":12.99,"y":-5},{"x":13.03,"y":-1},{"x":13.06,"y":-7},{"x":13.1,"y":-18},{"x":13.12,"y":-4}],
"m3": [{"x":0,"y":0},{"x":0.6,"y":0},{"x":0.6,"y":7},{"x":0.6,"y":-42},{"x":0.6,"y":-34},{"x":0.8,"y":-34},{"x":0.8,"y":-42},{"x":0.8,"y":-21},{"x":1.2,"y":-21},{"x":1.2,"y":-19},{"x":1.2,"y":-43},{"x":1.2,"y":-30.5},{"x":1.6,"y":-30.5},{"x":1.6,"y":-45},{"x":1.6,"y":-20},{"x":1.6,"y":-23.5},{"x":1.9,"y":-23.5},{"x":1.9,"y":-41},{"x":1.9,"y":-17},{"x":1.9,"y":-22.5},{"x":2.0,"y":-22.5},{"x":2.0,"y":-14},{"x":2.0,"y":-22.5},{"x":2.1,"y":-22.5},{"x":2.1,"y":-40},{"x":2.1,"y":-19.5},{"x":2.6,"y":-19.5},{"x":2.6,"y":-11.5},{"x":2.6,"y":-18.5},{"x":3.3,"y":-18.5},{"x":3.3,"y":-9},{"x":3.3,"y":-44},{"x":3.3,"y":-38},{"x":3.5,"y":-38},{"x":3.5,"y":-43},{"x":3.5,"y":-29.5},{"x":3.85,"y":-29.5},{"x":3.85,"y":-18},{"x":3.85,"y":-40},{"x":3.85,"y":-26.5},{"x":4.2,"y":-26.5},{"x":4.2,"y":-43},{"x":4.2,"y":-21},{"x":4.2,"y":-22.5},{"x":4.55,"y":-22.5},{"x":4.55,"y":-40},{"x":4.55,"y":-27},{"x":4.8,"y":-27},{"x":4.8,"y":-24},{"x":5.3,"y":-24},{"x":5.3,"y":-21.5},{"x":5.95,"y":-21.5},{"x":5.95,"y":-19},{"x":5.95,"y":-43},{"x":5.95,"y":-36.5},{"x":6.15,"y":-36.5},{"x":6.15,"y":-42},{"x":6.15,"y":-26},{"x":6.5,"y":-26},{"x":6.5,"y":-16},{"x":6.5,"y":-37},{"x":6.5,"y":-30},{"x":6.9,"y":-30},{"x":6.9,"y":-16},{"x":6.9,"y":-46},{"x":6.9,"y":-22.5},{"x":7.2,"y":-22.5},{"x":7.2,"y":-40},{"x":7.2,"y":-18},{"x":7.2,"y":-24.5},{"x":7.5,"y":-24.5},{"x":7.5,"y":-18},{"x":7.5,"y":-40},{"x":7.5,"y":-25},{"x":8.0,"y":-25},{"x":8.0,"y":-20.5},{"x":8.7,"y":-20.5},{"x":8.7,"y":-15.5},{"x":8.9,"y":-15.5},{"x":8.9,"y":-9},{"x":8.9,"y":-43},{"x":8.9,"y":-25.5},{"x":9.3,"y":-25.5},{"x":9.3,"y":-17},{"x":9.3,"y":-44},{"x":9.3,"y":-25.5},{"x":9.6,"y":-25.5},{"x":9.6,"y":-42},{"x":9.6,"y":-19.5},{"x":9.85,"y":-19.5},{"x":9.85,"y":-40},{"x":9.85,"y":-24},{"x":10.0,"y":-24},{"x":10.0,"y":-14.5},{"x":10.0,"y":-16},{"x":11.3,"y":-16},{"x":11.3,"y":-12},{"x":11.3,"y":-43},{"x":11.3,"y":-32.5},{"x":11.5,"y":-32.5},{"x":11.5,"y":-43.5},{"x":11.5,"y":-22},{"x":11.5,"y":-27.5},{"x":11.85,"y":-27.5},{"x":11.85,"y":-32},{"x":11.85,"y":-26.5},{"x":12.2,"y":-26.5},{"x":12.2,"y":-15},{"x":12.2,"y":-43},{"x":12.2,"y":-19.5},{"x":12.45,"y":-19.5},{"x":12.45,"y":-40},{"x":12.45,"y":-23.5},{"x":12.7,"y":-23.5},{"x":12.7,"y":-15},{"x":12.7,"y":-22.5},{"x":12.7,"y":-19.5},{"x":13.12,"y":-19.5}],
"b4": [{"x":0,"y":-3},{"x":0.04,"y":-7},{"x":0.08,"y":-5},{"x":0.12,"y":-8},{"x":0.16,"y":-4},{"x":0.2,"y":-6},{"x":0.25,"y":-2},{"x":0.3,"y":-7},{"x":0.35,"y":-23},{"x":0.39,"y":-5},{"x":0.43,"y":-1},{"x":0.47,"y":-6},{"x":0.51,"y":-3},{"x":0.55,"y":-8},{"x":0.59,"y":-4},{"x":0.63,"y":-34},{"x":0.67,"y":-6},{"x":0.71,"y":-2},{"x":0.75,"y":-7},{"x":0.8,"y":-31},{"x":0.84,"y":-5},{"x":0.88,"y":-2},{"x":0.92,"y":-8},{"x":0.95,"y":-4},{"x":0.98,"y":-20},{"x":1.02,"y":-4},{"x":1.06,"y":-7},{"x":1.1,"y":-3},{"x":1.15,"y":-8},{"x":1.2,"y":-29},{"x":1.24,"y":-5},{"x":1.28,"y":-3},{"x":1.31,"y":-8},{"x":1.35,"y":-22},{"x":1.39,"y":-5},{"x":1.43,"y":-2},{"x":1.47,"y":-7},{"x":1.51,"y":-3},{"x":1.54,"y":-10},{"x":1.57,"y":-42},{"x":1.61,"y":-14},{"x":1.65,"y":-9},{"x":1.7,"y":-27},{"x":1.74,"y":-8},{"x":1.78,"y":-4},{"x":1.82,"y":-12},{"x":1.86,"y":-7},{"x":1.9,"y":-38.5},{"x":1.94,"y":-10},{"x":1.97,"y":-16},{"x":2.0,"y":-24},{"x":2.04,"y":-6},{"x":2.08,"y":-12},{"x":2.11,"y":-8},{"x":2.15,"y":-21},{"x":2.19,"y":-6},{"x":2.23,"y":-3},{"x":2.27,"y":-9},{"x":2.31,"y":-5},{"x":2.35,"y":-12},{"x":2.4,"y":-6},{"x":2.45,"y":-3},{"x":2.5,"y":-8},{"x":2.55,"y":-4},{"x":2.62,"y":-21},{"x":2.66,"y":-5},{"x":2.7,"y":-2},{"x":2.74,"y":-7},{"x":2.78,"y":-4},{"x":2.82,"y":-9},{"x":2.86,"y":-5},{"x":2.9,"y":-3},{"x":2.95,"y":-8},{"x":3.0,"y":-22},{"x":3.04,"y":-5},{"x":3.08,"y":-2},{"x":3.12,"y":-7},{"x":3.16,"y":-4},{"x":3.2,"y":-9},{"x":3.25,"y":-5},{"x":3.3,"y":-34.5},{"x":3.34,"y":-7},{"x":3.38,"y":-3},{"x":3.42,"y":-8},{"x":3.46,"y":-4},{"x":3.5,"y":-22},{"x":3.54,"y":-5},{"x":3.58,"y":-2},{"x":3.62,"y":-7},{"x":3.66,"y":-4},{"x":3.7,"y":-9},{"x":3.75,"y":-5},{"x":3.8,"y":-11},{"x":3.85,"y":-37.5},{"x":3.89,"y":-7},{"x":3.93,"y":-3},{"x":3.97,"y":-8},{"x":4.01,"y":-4},{"x":4.05,"y":-10},{"x":4.1,"y":-22},{"x":4.14,"y":-8},{"x":4.17,"y":-12},{"x":4.2,"y":-43},{"x":4.24,"y":-10},{"x":4.28,"y":-5},{"x":4.32,"y":-9},{"x":4.36,"y":-4},{"x":4.4,"y":-8},{"x":4.45,"y":-3},{"x":4.5,"y":-10},{"x":4.55,"y":-35.5},{"x":4.6,"y":-8},{"x":4.65,"y":-24},{"x":4.69,"y":-5},{"x":4.73,"y":-2},{"x":4.77,"y":-7},{"x":4.81,"y":-4},{"x":4.85,"y":-8},{"x":4.9,"y":-3},{"x":4.95,"y":-6},{"x":5.0,"y":-2},{"x":5.05,"y":-7},{"x":5.1,"y":-4},{"x":5.15,"y":-9},{"x":5.2,"y":-12},{"x":5.25,"y":-28.5},{"x":5.29,"y":-6},{"x":5.33,"y":-2},{"x":5.37,"y":-7},{"x":5.41,"y":-4},{"x":5.45,"y":-9},{"x":5.5,"y":-5},{"x":5.55,"y":-3},{"x":5.6,"y":-8},{"x":5.65,"y":-22},{"x":5.69,"y":-5},{"x":5.73,"y":-2},{"x":5.77,"y":-7},{"x":5.81,"y":-4},{"x":5.85,"y":-10},{"x":5.89,"y":-14},{"x":5.92,"y":-37},{"x":5.96,"y":-9},{"x":6.0,"y":-4},{"x":6.04,"y":-9},{"x":6.08,"y":-13},{"x":6.13,"y":-38.5},{"x":6.17,"y":-6},{"x":6.21,"y":-1},{"x":6.25,"y":-6},{"x":6.29,"y":-3},{"x":6.33,"y":-8},{"x":6.37,"y":-4},{"x":6.41,"y":-7},{"x":6.45,"y":-12},{"x":6.5,"y":-35},{"x":6.54,"y":-7},{"x":6.58,"y":-3},{"x":6.62,"y":-8},{"x":6.66,"y":-4},{"x":6.7,"y":-1.5},{"x":6.74,"y":-6},{"x":6.78,"y":-3},{"x":6.82,"y":-9},{"x":6.85,"y":-14},{"x":6.88,"y":-43.5},{"x":6.92,"y":-14},{"x":6.96,"y":-20},{"x":7.0,"y":-10},{"x":7.04,"y":-24},{"x":7.08,"y":-12},{"x":7.12,"y":-26},{"x":7.15,"y":-30},{"x":7.19,"y":-14},{"x":7.23,"y":-22},{"x":7.27,"y":-9},{"x":7.31,"y":-25},{"x":7.35,"y":-12},{"x":7.4,"y":-28},{"x":7.44,"y":-8},{"x":7.48,"y":-18},{"x":7.52,"y":-5},{"x":7.56,"y":-9},{"x":7.6,"y":-4},{"x":7.65,"y":-10},{"x":7.7,"y":-6},{"x":7.75,"y":-13},{"x":7.8,"y":-22},{"x":7.84,"y":-5},{"x":7.88,"y":-2},{"x":7.92,"y":-7},{"x":7.96,"y":-4},{"x":8.0,"y":-9},{"x":8.05,"y":-5},{"x":8.1,"y":-2},{"x":8.15,"y":-8},{"x":8.2,"y":-4},{"x":8.25,"y":-12},{"x":8.3,"y":-27},{"x":8.34,"y":-6},{"x":8.38,"y":-3},{"x":8.42,"y":-8},{"x":8.46,"y":-4},{"x":8.5,"y":-11},{"x":8.55,"y":-28.5},{"x":8.59,"y":-6},{"x":8.63,"y":-3},{"x":8.67,"y":-8},{"x":8.71,"y":-4},{"x":8.75,"y":-12},{"x":8.8,"y":-35},{"x":8.84,"y":-7},{"x":8.88,"y":-3},{"x":8.92,"y":-9},{"x":8.96,"y":-5},{"x":9.0,"y":-2},{"x":9.05,"y":-7},{"x":9.1,"y":-4},{"x":9.15,"y":-12},{"x":9.2,"y":-33.5},{"x":9.24,"y":-7},{"x":9.28,"y":-3},{"x":9.32,"y":-9},{"x":9.36,"y":-5},{"x":9.4,"y":-10},{"x":9.45,"y":-6},{"x":9.5,"y":-14},{"x":9.55,"y":-43.5},{"x":9.59,"y":-12},{"x":9.63,"y":-20},{"x":9.67,"y":-8},{"x":9.71,"y":-14},{"x":9.75,"y":-6},{"x":9.8,"y":-25},{"x":9.84,"y":-7},{"x":9.88,"y":-3},{"x":9.92,"y":-9},{"x":9.96,"y":-5},{"x":10.0,"y":-10},{"x":10.05,"y":-4},{"x":10.1,"y":-8},{"x":10.15,"y":-3},{"x":10.2,"y":-7},{"x":10.25,"y":-4},{"x":10.3,"y":-11},{"x":10.35,"y":-25},{"x":10.39,"y":-6},{"x":10.43,"y":-2},{"x":10.47,"y":-7},{"x":10.51,"y":-4},{"x":10.55,"y":-9},{"x":10.6,"y":-5},{"x":10.65,"y":-12},{"x":10.7,"y":-29},{"x":10.74,"y":-6},{"x":10.78,"y":-2},{"x":10.82,"y":-8},{"x":10.86,"y":-4},{"x":10.9,"y":-9},{"x":10.95,"y":-5},{"x":11.0,"y":-2},{"x":11.05,"y":-7},{"x":11.1,"y":-4},{"x":11.15,"y":-9},{"x":11.2,"y":-5},{"x":11.25,"y":-12},{"x":11.3,"y":-33},{"x":11.34,"y":-6},{"x":11.38,"y":-2},{"x":11.42,"y":-8},{"x":11.46,"y":-4},{"x":11.5,"y":-10},{"x":11.55,"y":-5},{"x":11.6,"y":-2},{"x":11.65,"y":-7},{"x":11.7,"y":-4},{"x":11.75,"y":-12},{"x":11.8,"y":-35.5},{"x":11.84,"y":-8},{"x":11.88,"y":-3},{"x":11.92,"y":-9},{"x":11.96,"y":-5},{"x":12.0,"y":-10},{"x":12.05,"y":-4},{"x":12.1,"y":-8},{"x":12.15,"y":-13},{"x":12.2,"y":-41},{"x":12.24,"y":-10},{"x":12.28,"y":-4},{"x":12.32,"y":-9},{"x":12.36,"y":-5},{"x":12.4,"y":-2},{"x":12.45,"y":-7},{"x":12.5,"y":-12},{"x":12.55,"y":-36},{"x":12.59,"y":-7},{"x":12.63,"y":-3},{"x":12.67,"y":-8},{"x":12.71,"y":-4},{"x":12.75,"y":-10},{"x":12.8,"y":-23},{"x":12.84,"y":-5},{"x":12.88,"y":-2},{"x":12.92,"y":-7},{"x":12.96,"y":-3},{"x":13.0,"y":-9},{"x":13.05,"y":-5},{"x":13.1,"y":-14},{"x":13.12,"y":-6}],
"m4": [{"x":0,"y":0},{"x":1.55,"y":0},{"x":1.55,"y":12},{"x":1.55,"y":-35},{"x":1.55,"y":-23},{"x":1.85,"y":-23},{"x":1.85,"y":-21},{"x":1.85,"y":-16},{"x":1.85,"y":-17.5},{"x":3.3,"y":-17.5},{"x":3.3,"y":-12},{"x":3.3,"y":-18},{"x":3.3,"y":-14},{"x":3.85,"y":-14},{"x":3.85,"y":-7.5},{"x":3.85,"y":-16.5},{"x":3.85,"y":-13.5},{"x":4.2,"y":-13.5},{"x":4.2,"y":-5.5},{"x":4.2,"y":-43.5},{"x":4.2,"y":-23.5},{"x":5.95,"y":-23.5},{"x":5.95,"y":-17},{"x":5.95,"y":-18},{"x":6.15,"y":-18},{"x":6.15,"y":-11.5},{"x":6.55,"y":-11.5},{"x":6.55,"y":-6},{"x":6.55,"y":-8.5},{"x":6.9,"y":-8.5},{"x":6.9,"y":-1.5},{"x":6.9,"y":-38},{"x":6.9,"y":-21.5},{"x":9.2,"y":-21.5},{"x":9.2,"y":-19.5},{"x":9.55,"y":-19.5},{"x":9.55,"y":-37},{"x":9.55,"y":-11.5},{"x":9.55,"y":-22.5},{"x":11.8,"y":-22.5},{"x":11.8,"y":-16.5},{"x":11.8,"y":-17.5},{"x":12.2,"y":-17.5},{"x":12.2,"y":-7.5},{"x":12.2,"y":-38},{"x":12.2,"y":-17.5},{"x":13.12,"y":-17.5}]
},
"resolve": {"scale": {"x": "independent", "y": "independent", "color": "independent"}, "legend": {"color": "independent"}},
"spacing": 2,
"vconcat": [
 {
  "hconcat": [
   {
    "width": 440, "height": 351,
    "layer": [
     {"data": {"name": "b1"}, "mark": {"type": "line", "clip": true, "strokeWidth": 2.4},
      "encoding": {
       "x": {"field": "x", "type": "quantitative", "scale": {"domain": [0, 13.12], "nice": false, "zero": false}, "axis": {"values": [0, 5, 10], "labelPadding": 8, "titlePadding": 2, "title": "Bloque de 64 Echantillons"}},
       "y": {"field": "y", "type": "quantitative", "scale": {"domain": [-60, 20], "nice": false}, "axis": {"values": [-60, -40, -20, 0, 20], "labelExpr": "datum.value + ''", "labelPadding": 4, "titlePadding": 6, "title": "SM en (dB)"}},
       "color": {"datum": "RNQ classique", "type": "nominal", "scale": {"domain": ["RNQ classique", "RNQ automatique proposé"], "range": ["#0000ff", "#ff00ff"]}, "legend": {"title": null, "offset": 3}}
      }},
     {"data": {"name": "m1"}, "mark": {"type": "line", "clip": true},
      "encoding": {"x": {"field": "x", "type": "quantitative"}, "y": {"field": "y", "type": "quantitative"}, "color": {"datum": "RNQ automatique proposé", "type": "nominal"}}},
     {"data": {"values": [{}]}, "mark": {"type": "text", "align": "right", "baseline": "alphabetic", "fontSize": 22}, "encoding": {"x": {"datum": 12.84}, "y": {"datum": -74.6}, "text": {"value": "x 10"}}},
     {"data": {"values": [{}]}, "mark": {"type": "text", "align": "left", "baseline": "alphabetic", "fontSize": 15}, "encoding": {"x": {"datum": 12.87}, "y": {"datum": -71.2}, "text": {"value": "4"}}}
    ]
   },
   {
    "width": 436, "height": 349,
    "layer": [
     {"data": {"name": "b2"}, "mark": {"type": "line", "clip": true, "strokeWidth": 2.4},
      "encoding": {
       "x": {"field": "x", "type": "quantitative", "scale": {"domain": [0, 13.12], "nice": false, "zero": false}, "axis": {"values": [0, 5, 10], "labelPadding": 8, "titlePadding": 2, "title": "Bloque de 128 Echantillons"}},
       "y": {"field": "y", "type": "quantitative", "scale": {"domain": [-60, 20], "nice": false}, "axis": {"values": [-60, -40, -20, 0, 20], "labelExpr": "datum.value + ''", "labelPadding": 4, "titlePadding": 6, "title": "SM en (dB)"}},
       "color": {"datum": "RNQ classique", "type": "nominal", "scale": {"domain": ["RNQ classique", "RNQ automatique proposé"], "range": ["#0000ff", "#ff00ff"]}, "legend": {"title": null, "offset": 5}}
      }},
     {"data": {"name": "m2"}, "mark": {"type": "line", "clip": true},
      "encoding": {"x": {"field": "x", "type": "quantitative"}, "y": {"field": "y", "type": "quantitative"}, "color": {"datum": "RNQ automatique proposé", "type": "nominal"}}},
     {"data": {"values": [{}]}, "mark": {"type": "text", "align": "right", "baseline": "alphabetic", "fontSize": 22}, "encoding": {"x": {"datum": 12.84}, "y": {"datum": -75}, "text": {"value": "x 10"}}},
     {"data": {"values": [{}]}, "mark": {"type": "text", "align": "left", "baseline": "alphabetic", "fontSize": 15}, "encoding": {"x": {"datum": 12.87}, "y": {"datum": -71.2}, "text": {"value": "4"}}}
    ]
   }
  ],
  "spacing": 68,
  "resolve": {"scale": {"x": "independent", "y": "independent", "color": "independent"}, "legend": {"color": "independent"}}
 },
 {
  "title": {"text": "j=3", "anchor": "start", "frame": "bounds", "font": "Lato", "fontStyle": "italic", "fontSize": 26, "fontWeight": "normal", "color": "black", "dx": 95, "offset": 26},
  "hconcat": [
   {
    "width": 441, "height": 335,
    "layer": [
     {"data": {"name": "b3"}, "mark": {"type": "line", "clip": true, "strokeWidth": 2.4},
      "encoding": {
       "x": {"field": "x", "type": "quantitative", "scale": {"domain": [0, 13.12], "nice": false, "zero": false}, "axis": {"values": [0, 5, 10], "labelPadding": 8, "titlePadding": 2, "title": "Bloque de 64 Echantillons"}},
       "y": {"field": "y", "type": "quantitative", "scale": {"domain": [-60, 20], "nice": false}, "axis": {"values": [-60, -40, -20, 0, 20], "labelExpr": "datum.value + ''", "labelPadding": 4, "titlePadding": 10, "title": "SM en (dB)"}},
       "color": {"datum": "RNQ classique", "type": "nominal", "scale": {"domain": ["RNQ classique", "RNQ automatique proposé"], "range": ["#0000ff", "#ff00ff"]}, "legend": {"title": null, "offset": 5}}
      }},
     {"data": {"name": "m3"}, "mark": {"type": "line", "clip": true},
      "encoding": {"x": {"field": "x", "type": "quantitative"}, "y": {"field": "y", "type": "quantitative"}, "color": {"datum": "RNQ automatique proposé", "type": "nominal"}}},
     {"data": {"values": [{}]}, "mark": {"type": "text", "align": "right", "baseline": "alphabetic", "fontSize": 22}, "encoding": {"x": {"datum": 12.72}, "y": {"datum": -73.6}, "text": {"value": "x 10"}}},
     {"data": {"values": [{}]}, "mark": {"type": "text", "align": "left", "baseline": "alphabetic", "fontSize": 15}, "encoding": {"x": {"datum": 12.75}, "y": {"datum": -71.7}, "text": {"value": "4"}}}
    ]
   },
   {
    "width": 434, "height": 330,
    "layer": [
     {"data": {"name": "b4"}, "mark": {"type": "line", "clip": true, "strokeWidth": 2.4},
      "encoding": {
       "x": {"field": "x", "type": "quantitative", "scale": {"domain": [0, 13.12], "nice": false, "zero": false}, "axis": {"values": [0, 5, 10], "labelPadding": 8, "titlePadding": 2, "title": "Bloque de 128 Echantillons"}},
       "y": {"field": "y", "type": "quantitative", "scale": {"domain": [-60, 20], "nice": false}, "axis": {"values": [-60, -40, -20, 0, 20], "labelExpr": "datum.value + ''", "labelPadding": 4, "titlePadding": 8, "title": "SM en (dB)"}},
       "color": {"datum": "RNQ classique", "type": "nominal", "scale": {"domain": ["RNQ classique", "RNQ automatique proposé"], "range": ["#0000ff", "#ff00ff"]}, "legend": {"title": null, "offset": 5}}
      }},
     {"data": {"name": "m4"}, "mark": {"type": "line", "clip": true},
      "encoding": {"x": {"field": "x", "type": "quantitative"}, "y": {"field": "y", "type": "quantitative"}, "color": {"datum": "RNQ automatique proposé", "type": "nominal"}}},
     {"data": {"values": [{}]}, "mark": {"type": "text", "align": "right", "baseline": "alphabetic", "fontSize": 22}, "encoding": {"x": {"datum": 12.84}, "y": {"datum": -75.8}, "text": {"value": "x 10"}}},
     {"data": {"values": [{}]}, "mark": {"type": "text", "align": "left", "baseline": "alphabetic", "fontSize": 15}, "encoding": {"x": {"datum": 12.87}, "y": {"datum": -71.4}, "text": {"value": "4"}}}
    ]
   }
  ],
  "spacing": 70,
  "resolve": {"scale": {"x": "independent", "y": "independent", "color": "independent"}, "legend": {"color": "independent"}}
 }
]
}
